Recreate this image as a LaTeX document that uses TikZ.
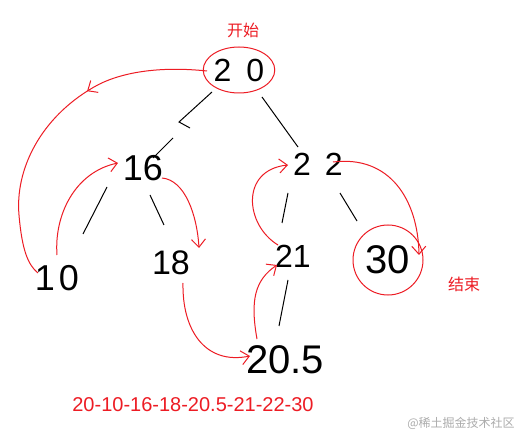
\documentclass[tikz,border=0pt]{standalone}
\usepackage{fontspec}
\setmainfont{Liberation Sans}
\newfontfamily\cjk{Noto Sans CJK SC}
\usetikzlibrary{arrows.meta,shapes.geometric,decorations.markings}
\definecolor{pred}{RGB}{237,28,36}
\definecolor{wm}{RGB}{172,172,172}
\begin{document}
\begin{tikzpicture}[x=1pt,y=-1pt,
  num/.style={inner sep=0pt, font=\fontsize{#1}{#1}\selectfont},
  ring/.style={draw=pred, line width=1pt},
  edge/.style={draw=black, line width=1pt},
  redline/.style={draw=pred, line width=1pt},
  redarr/.style={redline, -{Straight Barb[length=8pt,width=14pt]}},
  lbl/.style={text=pred, inner sep=0pt, font=\cjk\fontsize{16}{16}\selectfont}]
\fill[white] (0,0) rectangle (531,441);
\useasboundingbox (0,0) rectangle (531,441);

% tree nodes
\node[num=32, ellipse, ring, minimum width=64pt, minimum height=46pt] (n20) at (239,70) {2\hspace{15pt}0};
\node[num=36] (n16) at (143,168) {16};
\node[num=32] (n22) at (318,164) {2\hspace{14pt}2};
\node[num=36] (n10) at (57,278) {1\hspace{4pt}0};
\node[num=34] (n18) at (171,263) {18};
\node[num=32] (n21) at (293,256) {21};
\node[num=40, circle, ring, minimum size=70pt] (n30) at (388,260) {30};
\node[num=40] (n205) at (285,360) {20.5};

% labels
\node[lbl] (start) at (243,30) {开始};
\node[lbl] (finish) at (464,284) {结束};
\node[text=pred, inner sep=0pt, font=\fontsize{20}{20}\selectfont] (seq) at (193,405) {20-10-16-18-20.5-21-22-30};
\node[text=wm, inner sep=0pt, font=\cjk\fontsize{12}{12}\selectfont] (wmark) at (461,423) {@稀土掘金技术社区};

% tree edges
\draw[edge] ([shift={(-27,22)}]n20.center) -- (179,122) -- (190,128) (173,138) -- ([shift={(10,-10)}]n16.center);
\draw[edge] ([shift={(23,27)}]n20.center) -- ([shift={(-20,-17)}]n22.center);
\draw[edge] ([shift={(-36,19)}]n16.center) -- ([shift={(26,-44)}]n10.center);
\draw[edge] ([shift={(7,27)}]n16.center) -- ([shift={(-7,-38)}]n18.center);
\draw[edge] ([shift={(-30,29)}]n22.center) -- ([shift={(-11,-33)}]n21.center);
\draw[edge] ([shift={(22,29)}]n22.center) -- ([shift={(-31,-39)}]n30.center);
\draw[edge] ([shift={(-5,24)}]n21.center) -- ([shift={(-6,-34)}]n205.center);

% traversal arrows
\draw[redline, postaction={decorate}, decoration={markings, mark=at position 0.37 with {\arrow{Straight Barb[length=8pt,width=14pt]}}}]
  ([shift={(-32,1)}]n20.center) .. controls (160,66) and (120,72) .. (94,87)
  .. controls (40,118) and (15,170) .. (19,215)
  .. controls (22,250) and (28,265) .. ([shift={(-19,-5)}]n10.center);
\draw[redarr] ([shift={(0,-23)}]n10.center) .. controls (54,215) and (75,172) .. ([shift={(-25,-5)}]n16.center);
\draw[redarr] ([shift={(19,10)}]n16.center) .. controls (185,180) and (197,215) .. ([shift={(28,-15)}]n18.center);
\draw[redarr] ([shift={(12,20)}]n18.center) .. controls (182,330) and (205,365) .. ([shift={(-35,-4)}]n205.center);
\draw[redarr] ([shift={(-28,-21)}]n205.center) .. controls (250,300) and (255,280) .. ([shift={(-16,9)}]n21.center);
\draw[redarr] ([shift={(-15,-11)}]n21.center) .. controls (245,225) and (240,170) .. ([shift={(-30,1)}]n22.center);
\draw[redarr] ([shift={(15,-2)}]n22.center) .. controls (390,155) and (418,200) .. ([shift={(31,-5)}]n30.center);
\end{tikzpicture}
\end{document}
